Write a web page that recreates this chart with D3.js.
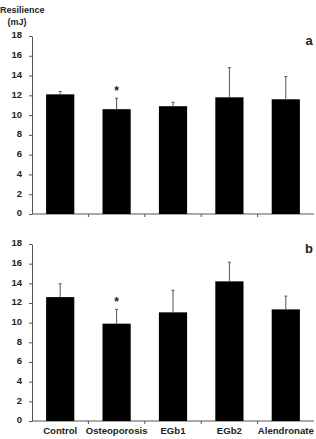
<!DOCTYPE html>
<html>
<head>
<meta charset="utf-8">
<script src="https://cdn.jsdelivr.net/npm/d3@7/dist/d3.min.js"></script>
<style>
  body { margin: 0; background: #fff; }
  svg { display: block; }
  text { font-family: "Liberation Sans", Arial, sans-serif; font-weight: bold; fill: #222; }
</style>
</head>
<body>
<div class="container"></div>
<script>
const categories = ['Control', 'Osteoporosis', 'EGb1', 'EGb2', 'Alendronate'];
const meansA = [12.1, 10.6, 10.9, 11.8, 11.6];
const errA = [0.3, 1.1, 0.4, 3.0, 2.3];
const meansB = [12.6, 9.9, 11.05, 14.2, 11.35];
const errB = [1.35, 1.45, 2.25, 1.95, 1.35];
const signifA = [false, true, false, false, false];
const signifB = [false, true, false, false, false];
const yTicks = [0, 2, 4, 6, 8, 10, 12, 14, 16, 18];

const width = 316, height = 439;
const axisColor = '#555';

let svg = d3.select('.container').append('svg')
  .attr('width', width)
  .attr('height', height);

// y axis title
svg.append('text').attr('x', 0).attr('y', 13)
  .style('font-size', '9px').text('Resilience');
svg.append('text').attr('x', 17).attr('y', 25).attr('text-anchor', 'middle')
  .style('font-size', '9px').text('(mJ)');

function panel(means, errs, signif, letter, top, bottom, showLabels) {
  const x = d3.scaleBand().domain(categories).range([32, 314]).paddingInner(0.5).paddingOuter(0.25);
  const y = d3.scaleLinear().domain([0, 18]).range([bottom, top]);
  const g = svg.append('g');

  // y axis
  const yAxis = d3.axisLeft(y).tickValues(yTicks).tickSize(3).tickSizeOuter(0).tickPadding(7);
  const ya = g.append('g').attr('transform', 'translate(32,0)').call(yAxis);
  ya.select('.domain').attr('stroke', axisColor);
  ya.selectAll('.tick line').attr('stroke', axisColor);
  ya.selectAll('.tick text').style('font-size', '9.5px').attr('dy', '0.2em')
    .style('font-family', '"Liberation Sans", Arial, sans-serif').attr('fill', '#222');

  // x axis line and the small ticks between groups
  g.append('line').attr('x1', 32).attr('x2', 314).attr('y1', bottom).attr('y2', bottom)
    .attr('stroke', axisColor);
  const bounds = categories.slice(1).map(c => x(c) - x.step() * x.paddingInner() / 2);
  g.selectAll('.xt').data(bounds).enter().append('line')
    .attr('x1', d => d).attr('x2', d => d)
    .attr('y1', bottom).attr('y2', bottom + 3)
    .attr('stroke', axisColor);

  // bars
  g.selectAll('.bar').data(means).enter().append('rect')
    .attr('x', (d, i) => x(categories[i]))
    .attr('width', x.bandwidth())
    .attr('y', d => y(d))
    .attr('height', d => bottom - y(d))
    .attr('fill', '#000');

  // error bars
  g.selectAll('.err').data(means).enter().append('line')
    .attr('x1', (d, i) => x(categories[i]) + x.bandwidth() / 2)
    .attr('x2', (d, i) => x(categories[i]) + x.bandwidth() / 2)
    .attr('y1', d => y(d))
    .attr('y2', (d, i) => y(d + errs[i]))
    .attr('stroke', axisColor).attr('stroke-width', 1);
  g.selectAll('.cap').data(means).enter().append('line')
    .attr('x1', (d, i) => x(categories[i]) + x.bandwidth() / 2 - 1.5)
    .attr('x2', (d, i) => x(categories[i]) + x.bandwidth() / 2 + 1.5)
    .attr('y1', (d, i) => y(d + errs[i]))
    .attr('y2', (d, i) => y(d + errs[i]))
    .attr('stroke', axisColor).attr('stroke-width', 1);

  // significance stars
  g.selectAll('.star').data(means).enter().filter((d, i) => signif[i]).append('text')
    .attr('x', (d) => x(categories[means.indexOf(d)]) + x.bandwidth() / 2)
    .attr('y', d => y(d + errs[means.indexOf(d)]) - 3)
    .attr('text-anchor', 'middle')
    .style('font-size', '12px')
    .text('*');

  g.append('text').attr('x', 309).attr('y', top + 9).attr('text-anchor', 'middle')
    .style('font-size', '13px').text(letter);

  if (showLabels) {
    g.selectAll('.cat').data(categories).enter().append('text')
      .attr('x', d => x(d) + x.bandwidth() / 2)
      .attr('y', bottom + 13)
      .attr('text-anchor', 'middle')
      .style('font-size', '9.6px')
      .text(d => d);
  }
}

panel(meansA, errA, signifA, 'a', 36, 214, false);
panel(meansB, errB, signifB, 'b', 244, 421, true);
</script>
</body>
</html>
